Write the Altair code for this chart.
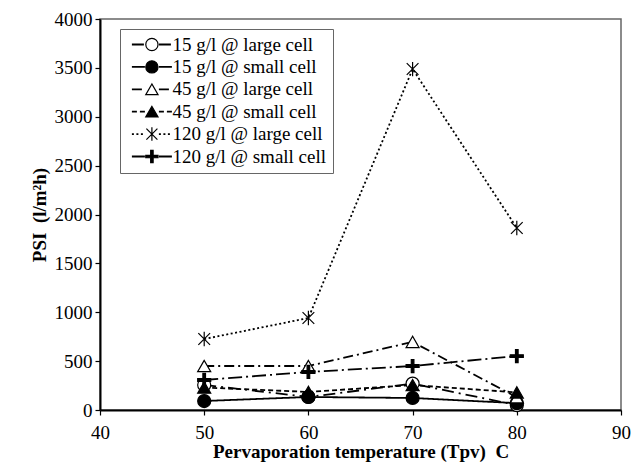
import altair as alt
import pandas as pd
import math

# ---- data ----
temps = [50, 60, 70, 80]
series_names = [
    "15 g/l @ large cell",
    "15 g/l @ small cell",
    "45 g/l @ large cell",
    "45 g/l @ small cell",
    "120 g/l @ large cell",
    "120 g/l @ small cell",
]
psi_15_large = [256, 133, 270, 50]
psi_15_small = [92, 133, 123, 70]
psi_45_large = [450, 450, 696, 130]
psi_45_small = [230, 185, 255, 180]
psi_120_large = [726, 941, 3488, 1862]
psi_120_small = [307, 389, 450, 552]
all_values = [psi_15_large, psi_15_small, psi_45_large, psi_45_small, psi_120_large, psi_120_small]

x_ticks = [40, 50, 60, 70, 80, 90]
y_ticks = [0, 500, 1000, 1500, 2000, 2500, 3000, 3500, 4000]

# line legend uses a separate (hidden-label) domain so it is not merged with the marker legend
line_names = [n + " " for n in series_names]

rows = []
for name, lname, vals in zip(series_names, line_names, all_values):
    for t, v in zip(temps, vals):
        rows.append({"T": t, "PSI": v, "series": lname, "series_b": name})
df = pd.DataFrame(rows)

# ---- styles ----
STAR = "M0,-1.1V1.1M-0.9,-0.9L0.9,0.9M-0.9,0.9L0.9,-0.9"
PLUS = "M-1,-0.2H-0.2V-1H0.2V-0.2H1V0.2H0.2V1H-0.2V0.2H-1Z"
shapes = ["circle", "circle", "triangle-up", "triangle-up", STAR, PLUS]
fills = ["white", "black", "white", "black", "transparent", "black"]
strokes = ["black"] * 6
dashes = [[12, 5, 2, 5], [1, 0], [10, 4, 2, 4], [5, 3], [2, 2.5], [14, 4, 2, 4]]

FONT = "Liberation Serif"
SYM = 150
r = math.sqrt(SYM) / 2.0
a, b = 20.0 / r, 7.0 / r
LINE_PATH = f"M{-a:.3f},0H{-b:.3f}M{b:.3f},0H{a:.3f}"

LX, LY = 20, 10
common_leg = dict(
    title=None, orient="none", legendX=LX, legendY=LY,
    symbolSize=SYM, symbolOffset=16.4, labelOffset=11,
    labelFont=FONT, labelFontSize=19, labelLimit=400,
    rowPadding=2.4, padding=6,
)

xscale = alt.Scale(domain=[40, 90], nice=False, zero=False)
yscale = alt.Scale(domain=[0, 4000], nice=False)

x_enc = alt.X("T:Q", scale=xscale,
              axis=alt.Axis(values=x_ticks, title="Pervaporation temperature (Tpv)\u00a0 C",
                            format="d", labelFont=FONT, labelFontSize=19,
                            labelPadding=8, titlePadding=0, labelFlush=False))
y_enc = alt.Y("PSI:Q", scale=yscale,
              axis=alt.Axis(values=y_ticks, title="PSI\u00a0 (l/m²h)", format="d",
                            labelFont=FONT, labelFontSize=19,
                            labelPadding=3, titlePadding=5))

lines = alt.Chart(df).mark_line(color="black", strokeWidth=1.8).encode(
    x=x_enc, y=y_enc,
    strokeDash=alt.StrokeDash(
        "series:N",
        scale=alt.Scale(domain=line_names, range=dashes),
        legend=alt.Legend(symbolType=LINE_PATH, symbolStrokeColor="black",
                          symbolStrokeWidth=1.8, labelOpacity=0,
                          strokeColor="#666666", **common_leg),
    ),
    detail="series:N",
)

pt_legend = alt.Legend(symbolStrokeColor="black", symbolStrokeWidth=1.2, **common_leg)
points = alt.Chart(df).mark_point(filled=True, strokeWidth=1.2,
                                  size=170, opacity=1).encode(
    x=x_enc, y=y_enc,
    shape=alt.Shape("series_b:N", scale=alt.Scale(domain=series_names, range=shapes),
                    legend=pt_legend),
    fill=alt.Fill("series_b:N", scale=alt.Scale(domain=series_names, range=fills),
                  legend=pt_legend),
    stroke=alt.Stroke("series_b:N", scale=alt.Scale(domain=series_names, range=strokes),
                      legend=pt_legend),
)

chart = alt.layer(lines, points).properties(
    width=521, height=391,
    autosize=alt.AutoSizeParams(type="none"),
    padding={"left": 100, "top": 19, "right": 10, "bottom": 60},
    background="white",
).configure_view(
    stroke="#666666", strokeWidth=1.5,
).configure_axis(
    domainColor="black", domainWidth=2, tickColor="black", tickWidth=1.2, tickSize=5,
    labelFont=FONT, labelFontSize=19, labelColor="black",
    titleFont=FONT, titleFontSize=19, titleFontWeight="bold", titleColor="black",
    grid=False,
)

chart.save("out.html", embed_options={"renderer": "svg", "actions": False})
